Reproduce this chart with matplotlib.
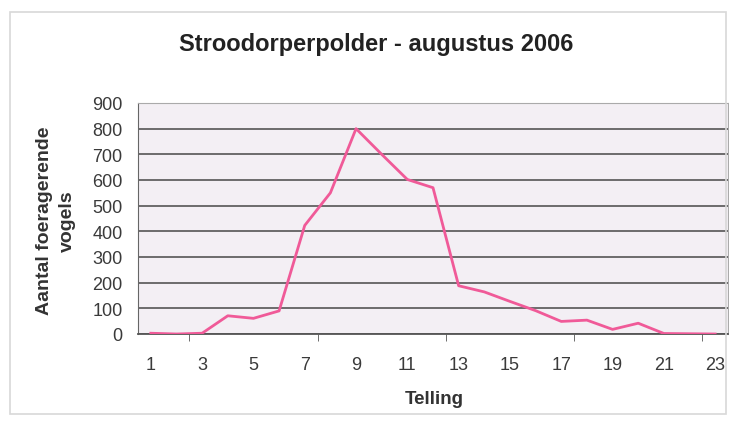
import numpy as np
import matplotlib.pyplot as plt
from matplotlib.patches import Rectangle

plt.rcParams["font.family"] = ["Liberation Sans", "DejaVu Sans"]

# telling 1..23, aantal foeragerende vogels
telling = list(range(1, 24))
aantal = [3, 0, 3, 71, 61, 90, 423, 550, 800, 700, 602, 570, 188,
          164, 127, 91, 49, 54, 18, 42, 2, 1, 0]
y_ticks = [0, 100, 200, 300, 400, 500, 600, 700, 800, 900]
x_labels = [str(t) for t in telling[::2]]

fig = plt.figure(figsize=(7.29, 4.27), dpi=100)
fig.patch.set_facecolor("white")

# lichte rand rond de grafiek
fig.patches.append(Rectangle((10 / 729, 12 / 427), 716 / 729, 402 / 427,
                             transform=fig.transFigure, fill=False,
                             edgecolor="#d8d8d8", linewidth=1.2))

ax = fig.add_axes([138 / 729, 1 - 335 / 427, 590 / 729, 231 / 427])
ax.set_facecolor("#f3eff4")

# categorie-as: elk punt in het midden van een vakje
x = np.array(telling)
ax.plot(x, aantal, color="#f05a98", linewidth=2.0, zorder=3)

ax.set_xlim(0.5, 23.5)
ax.set_ylim(0, 900)
ax.set_yticks(y_ticks)
ax.yaxis.grid(True, color="#555555", linewidth=1.2)
ax.set_axisbelow(True)

ax.set_xticks(telling[::2])
ax.set_xticklabels(x_labels)
ax.tick_params(axis="x", length=0, pad=16, labelsize=13, colors="#3a3a3a")
ax.tick_params(axis="y", length=0, pad=11, labelsize=13, colors="#3a3a3a")

# kleine streepjes op de x-as (om de 5 categorieën)
ax.set_xticks([2.5, 7.5, 12.5, 17.5, 22.5], minor=True)
ax.tick_params(axis="x", which="minor", length=5, color="#555555",
               direction="out")

for side in ["top", "right"]:
    ax.spines[side].set_color("#aaaaaa")
ax.spines["left"].set_color("#666666")
ax.spines["bottom"].set_color("#555555")
ax.spines["bottom"].set_linewidth(1.3)

fig.text(376 / 729, 1 - 44 / 427, "Stroodorperpolder - augustus 2006",
         ha="center", va="center", fontsize=17, fontweight="bold",
         color="#222222")
fig.text(434 / 729, 1 - 400 / 427, "Telling", ha="center", va="center",
         fontsize=13.5, fontweight="bold", color="#333333")
fig.text(56 / 729, 1 - 221 / 427, "Aantal foeragerende\nvogels",
         ha="center", va="center", rotation=90, fontsize=14,
         fontweight="bold", color="#333333", linespacing=1.45)

fig.savefig("out.png", dpi=100)
